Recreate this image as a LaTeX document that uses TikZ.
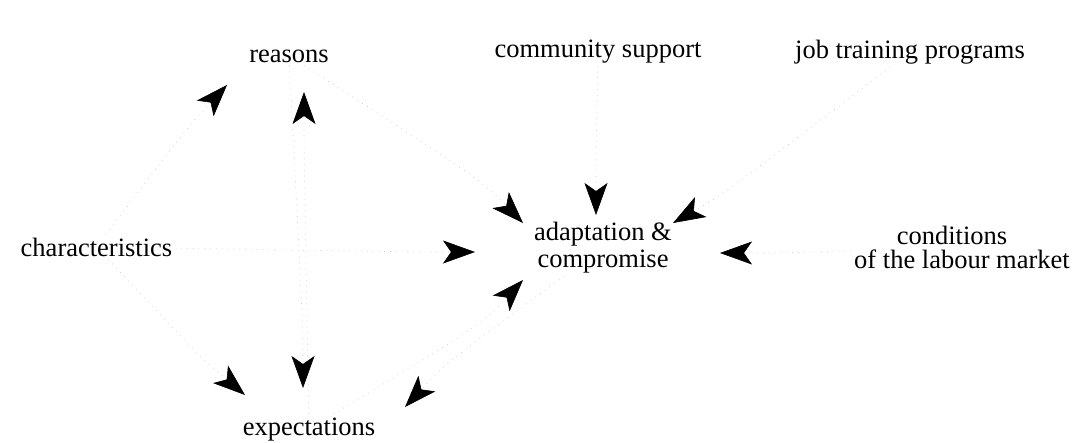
\documentclass[tikz,border=0pt]{standalone}
\usepackage{fontspec}
\setmainfont{Liberation Serif}
\usetikzlibrary{arrows.meta}
\tikzset{
  lbl/.style={font=\fontsize{26.5}{27}\selectfont, inner sep=3pt},
  lbltight/.style={font=\fontsize{26.5}{24}\selectfont, inner sep=3pt, align=center},
  conn/.style={draw=black!22, line width=0.6pt, dash pattern=on 0.8pt off 5pt,
    -{Stealth[length=32pt,width=23pt,inset=8pt,color=black]}}
}
\begin{document}
\begin{tikzpicture}[x=1pt,y=-1pt]
\fill[white] (0,0) rectangle (1076,442);
\useasboundingbox (0,0) rectangle (1076,442);

% nodes
\node[lbl, anchor=base] (reasons) at (289,62) {reasons};
\node[lbl, anchor=base] (community) at (598,57) {community support};
\node[lbl, anchor=base] (training) at (910,58) {job training programs};
\node[lbl, anchor=base] (characteristics) at (96.5,256) {characteristics};
\node[lbl, anchor=base] (expectations) at (309,435) {expectations};
\node[lbl, align=center] (adaptation) at (603,247.3) {adaptation \&\\compromise};
\node[lbltight] (conditions) at (962,247.5) {conditions\hspace*{20pt}\\of the labour market};

% arrow tips
\coordinate (t1) at (227,85);
\coordinate (t2) at (304,92);
\coordinate (t3) at (596,215);
\coordinate (t4) at (523,223);
\coordinate (t5) at (673,223);
\coordinate (t6) at (475,252);
\coordinate (t7) at (720,253);
\coordinate (t8) at (523,280);
\coordinate (t9) at (245,395);
\coordinate (t10) at (303,388);
\coordinate (t11) at (405,407);

% connectors
\draw[conn] (characteristics) .. controls (186,129) .. (t1);
\draw[conn] (expectations) .. controls (304,152) .. (t2);
\draw[conn] (community) .. controls (596,155) .. (t3);
\draw[conn] (reasons) .. controls (481,180) .. (t4);
\draw[conn] (training) .. controls (725,193) .. (t5);
\draw[conn] (characteristics) .. controls (415,252) .. (t6);
\draw[conn] (conditions) .. controls (780,253) .. (t7);
\draw[conn] (expectations) .. controls (482,324) .. (t8);
\draw[conn] (characteristics) .. controls (199,356) .. (t9);
\draw[conn] (reasons) .. controls (303,328) .. (t10);
\draw[conn] (adaptation) .. controls (446,363) .. (t11);
\end{tikzpicture}
\end{document}
